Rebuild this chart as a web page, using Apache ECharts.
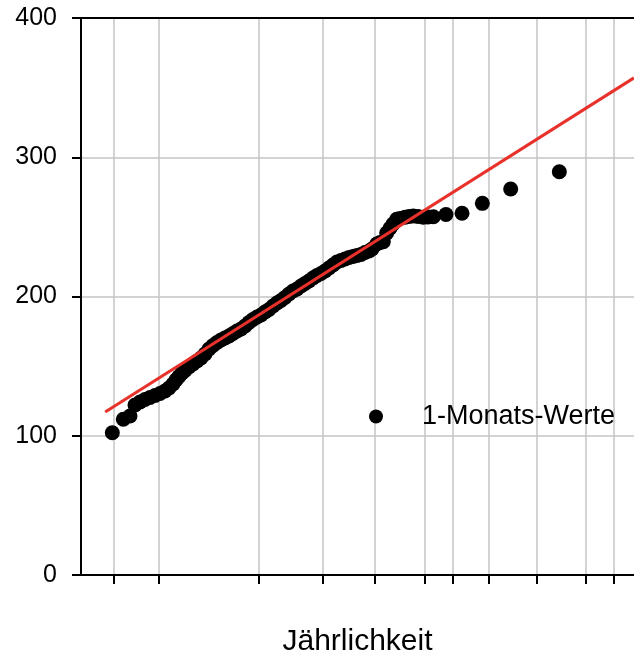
<!DOCTYPE html>
<html>
<head>
<meta charset="utf-8">
<script src="https://cdn.jsdelivr.net/npm/echarts@6/dist/echarts.min.js"></script>
<style>
  html, body { margin: 0; padding: 0; background: #fff; }
  #chart { width: 634px; height: 657px; }
</style>
</head>
<body>
<div id="chart"></div>
<script>
// Gumbel plotting paper: x is the reduced variate -ln(-ln(1 - 1/T))
const returnPeriods = [1.01, 1.1, 2.33, 5, 10, 20, 30, 50, 100, 200, 300];
const yTicks = [0, 100, 200, 300, 400];

// 1-month values (sorted) and their plotting positions on the reduced-variate scale
const reducedVariate = [
  -1.547, -1.388, -1.291, -1.219, -1.146, -1.074, -1.002, -0.929, -0.857, -0.785,
  -0.727, -0.669, -0.626, -0.582, -0.539, -0.495, -0.438, -0.380, -0.322, -0.264,
  -0.206, -0.148, -0.090, -0.032, 0.025, 0.083, 0.141, 0.199, 0.257, 0.315,
  0.373, 0.430, 0.488, 0.546, 0.604, 0.662, 0.720, 0.778, 0.835, 0.893,
  0.951, 1.009, 1.067, 1.125, 1.183, 1.241, 1.298, 1.356, 1.414, 1.472,
  1.530, 1.588, 1.646, 1.703, 1.761, 1.819, 1.877, 1.935, 1.993, 2.051,
  2.108, 2.166, 2.210, 2.278, 2.326, 2.373, 2.422, 2.470, 2.514, 2.567,
  2.615, 2.687, 2.745, 2.807, 2.875, 2.952, 3.020, 3.097, 3.280, 3.512,
  3.806, 4.216, 4.920
];
const monthValues = [
  102.2, 111.8, 114.2, 122.1, 124.2, 126.0, 127.5, 128.9, 130.3, 132.1,
  134.3, 137.2, 140.0, 142.5, 145.1, 146.9, 149.4, 151.5, 153.7, 155.8,
  158.7, 162.3, 164.8, 167.0, 168.8, 170.2, 171.6, 173.4, 175.2, 176.7,
  178.8, 181.3, 183.5, 185.3, 186.7, 188.9, 190.7, 193.2, 195.3, 197.1,
  199.3, 201.8, 203.9, 205.4, 207.5, 209.3, 211.1, 213.3, 215.1, 216.5,
  218.3, 220.5, 222.6, 224.8, 225.9, 226.9, 228.0, 228.7, 229.4, 230.2,
  231.6, 232.7, 234.1, 237.7, 238.8, 239.4, 245.6, 249.0, 252.1, 255.4,
  256.0, 256.9, 257.5, 257.8, 257.5, 256.9, 257.1, 257.3, 258.9, 259.8,
  266.9, 277.2, 289.6
];

// Fitted Gumbel line (end points on the reduced-variate scale)
const fitX = [-1.65, 6];
const fitY = [117, 357];

const reduced = T => -Math.log(-Math.log(1 - 1 / T));
const gridValues = returnPeriods.map(reduced);

const FONT = '"Liberation Sans", Arial, sans-serif';
const chart = echarts.init(document.getElementById('chart'), null, { renderer: 'canvas' });

chart.setOption({
  animation: false,
  backgroundColor: '#ffffff',
  grid: { left: 81, top: 18, right: 0, bottom: 82, containLabel: false, outerBoundsMode: 'none' },
  legend: {
    data: ['1-Monats-Werte'],
    left: 369,
    top: 403,
    padding: 0,
    itemWidth: 14,
    itemHeight: 14,
    icon: 'circle',
    textStyle: { fontFamily: FONT, fontSize: 27, color: '#000', padding: [0, 0, 0, 34] }
  },
  xAxis: [
    {
      type: 'value',
      min: -2,
      max: 6,
      name: 'Jährlichkeit',
      nameLocation: 'middle',
      nameGap: 52,
      nameTextStyle: { fontFamily: FONT, fontSize: 30, color: '#000' },
      axisLine: { show: true, onZero: false, lineStyle: { color: '#000', width: 2 } },
      axisTick: { show: true, inside: false, length: 9, customValues: gridValues, lineStyle: { color: '#000', width: 2 } },
      axisLabel: { show: false, customValues: gridValues },
      splitLine: { show: true, lineStyle: { color: '#c4c4c4', width: 1.5 } }
    },
    {
      type: 'value',
      position: 'top',
      min: -2,
      max: 6,
      axisLine: { show: true, onZero: false, lineStyle: { color: '#000', width: 2 } },
      axisTick: { show: false },
      axisLabel: { show: false },
      splitLine: { show: false }
    }
  ],
  yAxis: {
    type: 'value',
    min: yTicks[0],
    max: yTicks[yTicks.length - 1],
    interval: 100,
    axisLine: { show: true, onZero: false, lineStyle: { color: '#000', width: 2 } },
    axisTick: { show: true, inside: false, length: 9, lineStyle: { color: '#000', width: 2 } },
    axisLabel: { fontFamily: FONT, fontSize: 25, color: '#000', margin: 24 },
    splitLine: { show: true, lineStyle: { color: '#c4c4c4', width: 1.5 } }
  },
  series: [
    {
      name: '1-Monats-Werte',
      type: 'scatter',
      symbol: 'circle',
      symbolSize: 15,
      itemStyle: { color: '#000', opacity: 1 },
      data: reducedVariate.map((x, i) => [x, monthValues[i]]),
      z: 3
    },
    {
      name: 'Gumbel',
      type: 'line',
      symbol: 'none',
      lineStyle: { color: '#e8312a', width: 3 },
      data: fitX.map((x, i) => [x, fitY[i]]),
      z: 4
    }
  ]
});
</script>
</body>
</html>
